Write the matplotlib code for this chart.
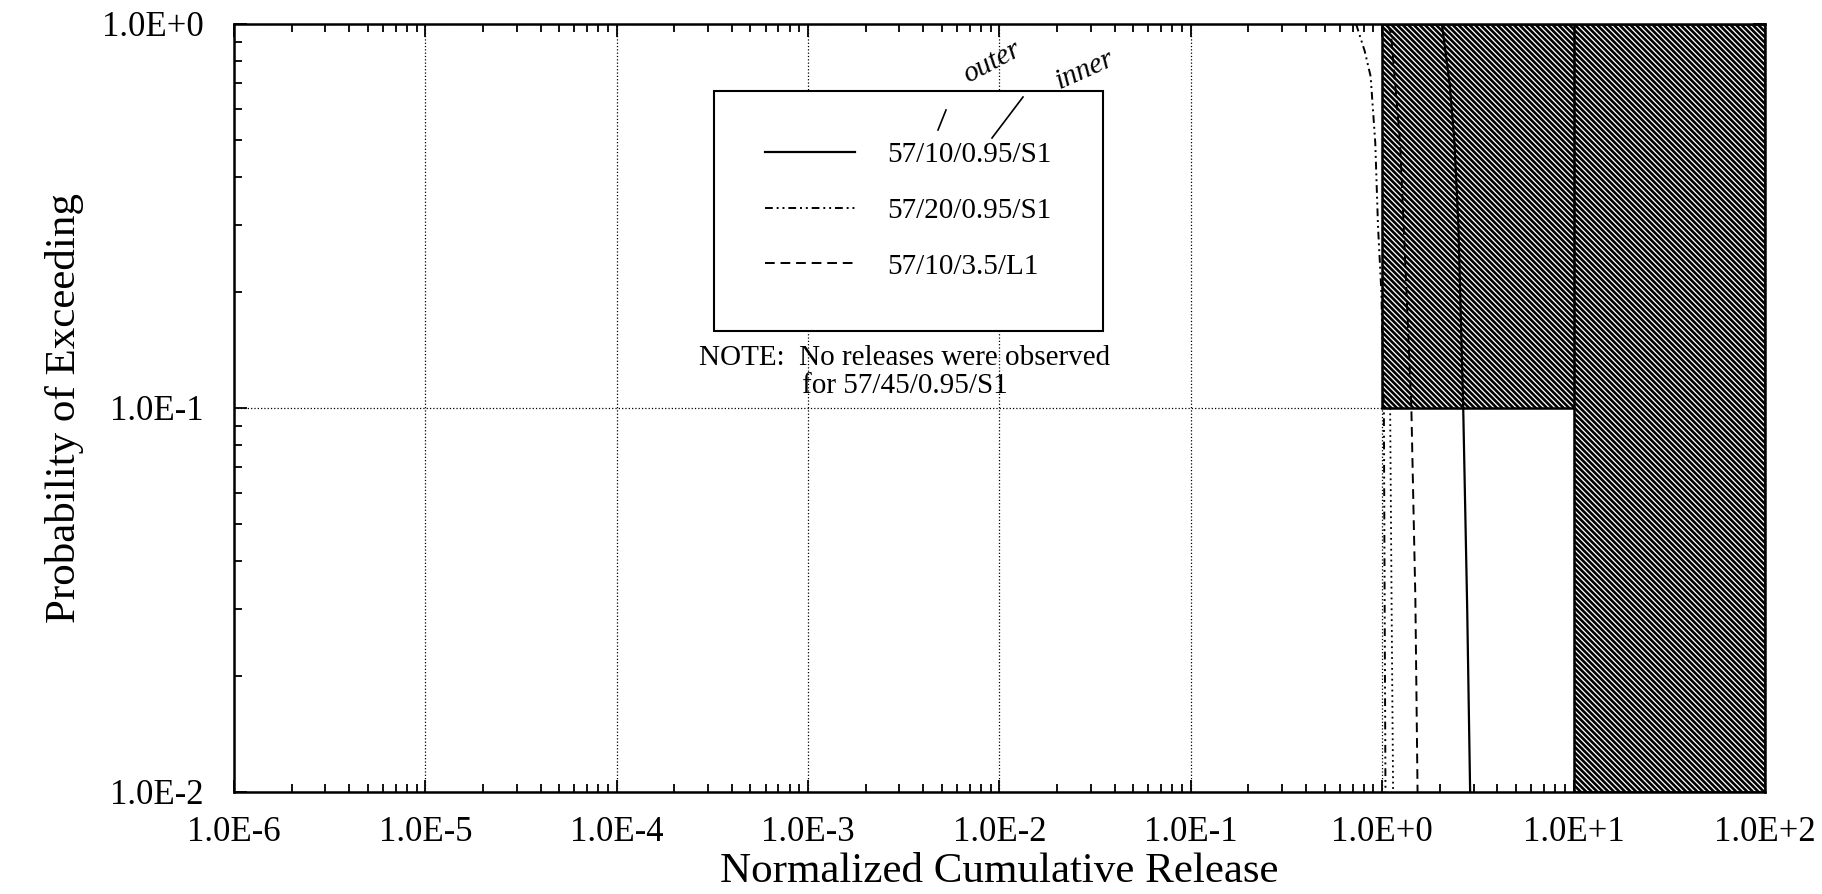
import numpy as np
import matplotlib
matplotlib.use('Agg')
import matplotlib.pyplot as plt
from matplotlib.ticker import LogLocator, FuncFormatter, NullFormatter

plt.rcParams['font.family'] = ['Liberation Serif', 'DejaVu Serif']
plt.rcParams['hatch.linewidth'] = 1.9

# --- data ---
# 57/10/0.95/S1 (solid)
p_s1 = [1.0, 0.7, 0.5, 0.3, 0.1, 0.03, 0.01]
x_s1 = [2.05, 2.25, 2.38, 2.50, 2.65, 2.78, 2.88]
# 57/20/0.95/S1 (dash-dot)
p_s20 = [1.0, 0.85, 0.73, 0.49, 0.3, 0.2, 0.1, 0.03, 0.01]
x_s20 = [0.73, 0.81, 0.87, 0.92, 0.95, 0.99, 1.02, 1.03, 1.04]
# second trace next to it below 0.1 (dotted)
p_s20b = [0.1, 0.03, 0.01]
x_s20b = [1.10, 1.12, 1.14]
# 57/10/3.5/L1 (dashed)
p_l1 = [1.0, 0.95, 0.49, 0.2, 0.1, 0.032, 0.01]
x_l1 = [1.06, 1.11, 1.24, 1.34, 1.42, 1.49, 1.53]

# hatched limit regions: (x0, x1, p0, p1)
limit_boxes = [(1.0, 100.0, 0.1, 1.0), (10.0, 100.0, 0.01, 1.0)]

legend_labels = ['57/10/0.95/S1', '57/20/0.95/S1', '57/10/3.5/L1']
note = 'NOTE:  No releases were observed\nfor 57/45/0.95/S1'

fig = plt.figure(figsize=(18.22, 8.94), dpi=100)
ax = fig.add_axes([0.1284, 0.1141, 0.8403, 0.8591])
ax.set_xscale('log')
ax.set_yscale('log')
ax.set_xlim(1e-6, 1e2)
ax.set_ylim(1e-2, 1.0)
ax.set_axisbelow(True)

for x0, x1, p0, p1 in limit_boxes:
    ax.fill([x0, x1, x1, x0], [p0, p0, p1, p1], facecolor='white',
            edgecolor='black', hatch='\\\\\\\\\\\\', linewidth=1.8, zorder=1)

h1, = ax.plot(x_s1, p_s1, color='black', lw=1.6, ls='-', zorder=3)
h2, = ax.plot(x_s20, p_s20, color='black', lw=1.4, ls=(0, (4, 2, 1, 2, 1, 2)), zorder=3)
ax.plot(x_s20b, p_s20b, color='black', lw=1.3, ls=(0, (1, 2)), zorder=3)
h3, = ax.plot(x_l1, p_l1, color='black', lw=1.4, ls=(0, (5, 3)), zorder=3)

ax.grid(which='major', color='black', linestyle=':', linewidth=0.9)

fmt = FuncFormatter(lambda v, pos: '1.0E{:+d}'.format(int(round(np.log10(v)))))
ax.xaxis.set_major_locator(LogLocator(base=10, numticks=20))
ax.yaxis.set_major_locator(LogLocator(base=10, numticks=20))
ax.xaxis.set_minor_locator(LogLocator(base=10, subs=np.arange(2, 10), numticks=20))
ax.yaxis.set_minor_locator(LogLocator(base=10, subs=np.arange(2, 10), numticks=20))
ax.xaxis.set_major_formatter(fmt)
ax.yaxis.set_major_formatter(fmt)
ax.xaxis.set_minor_formatter(NullFormatter())
ax.yaxis.set_minor_formatter(NullFormatter())
ax.tick_params(which='both', direction='in', top=True, right=True, width=1.3)
ax.tick_params(which='major', length=9, labelsize=25)
ax.tick_params(axis='x', which='major', pad=17)
ax.tick_params(axis='y', which='major', pad=22)
ax.tick_params(which='minor', length=6)
for sp in ax.spines.values():
    sp.set_linewidth(1.8)

ax.set_xlabel('Normalized Cumulative Release', fontsize=31, labelpad=3)
ax.set_ylabel('Probability of Exceeding', fontsize=31, labelpad=13)

leg = ax.legend([h1, h2, h3], legend_labels, loc='upper left',
                bbox_to_anchor=(714 / 1822, 1 - 91 / 894),
                bbox_transform=fig.transFigure, fontsize=21, frameon=True,
                fancybox=False, framealpha=1, edgecolor='black',
                borderpad=1.75, handlelength=3.1, handletextpad=1.1,
                labelspacing=1.0, borderaxespad=0)
leg.get_frame().set_linewidth(1.5)

fig.text(905 / 1822, 1 - 372 / 894, note, ha='center', va='center',
         fontsize=21, linespacing=1.1)

# handwritten marks on the scan
fig.text(992 / 1822, 1 - 62 / 894, 'outer', rotation=28, fontsize=21,
         style='italic', ha='center', va='center')
fig.text(1085 / 1822, 1 - 70 / 894, 'inner', rotation=24, fontsize=21,
         style='italic', ha='center', va='center')
fig.add_artist(plt.Line2D([938 / 1822, 946 / 1822], [1 - 130 / 894, 1 - 110 / 894],
                          color='black', lw=1.2))
fig.add_artist(plt.Line2D([992 / 1822, 1023 / 1822], [1 - 138 / 894, 1 - 97 / 894],
                          color='black', lw=1.2))

fig.savefig('out.png', dpi=100)
